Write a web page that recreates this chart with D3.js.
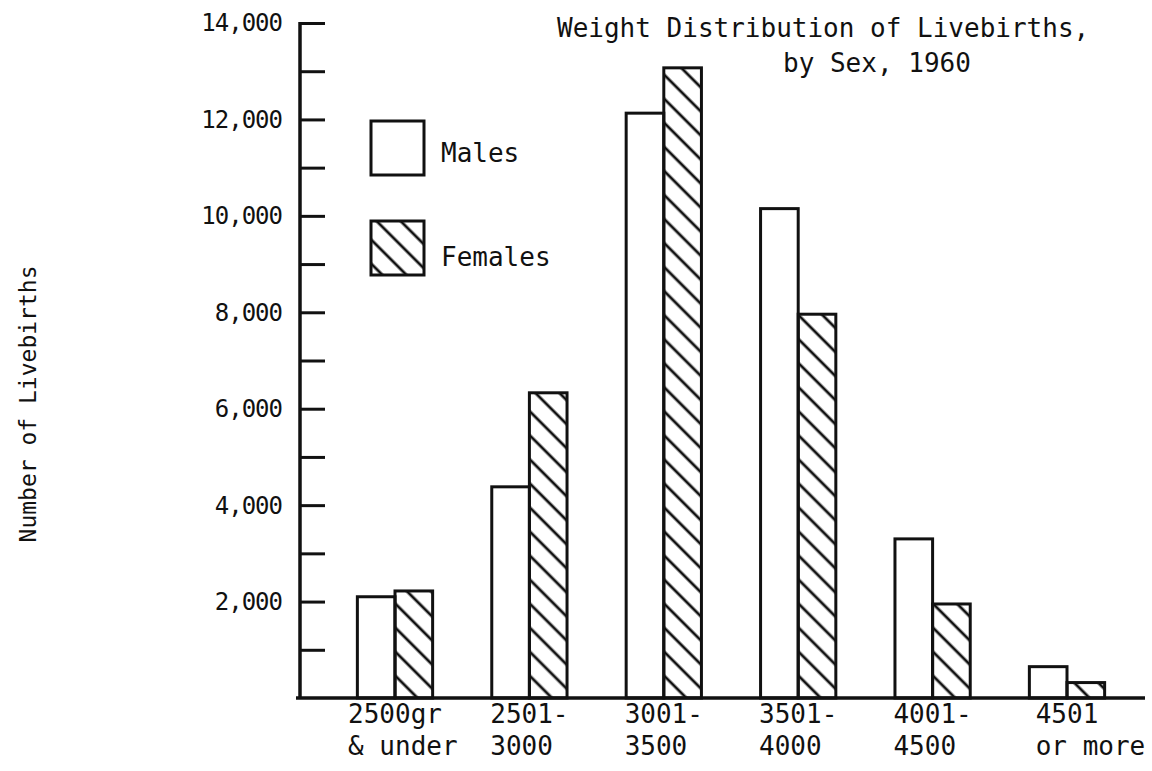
<!doctype html>
<html lang="en">
<head>
<meta charset="utf-8">
<title>Weight Distribution of Livebirths, by Sex, 1960</title>
<style>
body { margin: 0; background: #fff; }
svg text { font-family: "DejaVu Sans Mono", "Liberation Mono", monospace; fill: #111; }
</style>
</head>
<body>
<svg id="chart" width="1152" height="771"></svg>
<script src="https://cdn.jsdelivr.net/npm/d3@7/dist/d3.min.js"></script>
<script>
// weight classes (two-line labels)
var categories = ["2500gr|& under", "2501-|3000", "3001-|3500", "3501-|4000", "4001-|4500", "4501|or more"];
var series = ["Males", "Females"];
var males   = [2100, 4380, 12130, 10150, 3300, 650];
var females = [2220, 6330, 13070, 7960, 1950, 320];
var yTicks = [2000, 4000, 6000, 8000, 10000, 12000, 14000];

var svg = d3.select("#chart");
var ink = "#111";

var x = d3.scaleBand()
    .domain(categories)
    .range([327.8, 1134.2])
    .paddingInner(0.44)
    .paddingOuter(0.22);

var xSex = d3.scaleBand()
    .domain(series)
    .range([0, x.bandwidth()]);

var y = d3.scaleLinear()
    .domain([0, 14000])
    .range([698, 23]);

// hatch for females
var defs = svg.append("defs");
defs.append("pattern")
    .attr("id", "hatch")
    .attr("patternUnits", "userSpaceOnUse")
    .attr("width", 17).attr("height", 17)
    .attr("patternTransform", "rotate(-45)")
  .append("line")
    .attr("x1", 8).attr("y1", -2).attr("x2", 8).attr("y2", 19)
    .attr("stroke", ink).attr("stroke-width", 2.8);

// bars
var rows = categories.map(function(c, i) {
    return [{cat: c, sex: "Males", v: males[i]}, {cat: c, sex: "Females", v: females[i]}];
});

var groups = svg.append("g").selectAll("g")
    .data(rows)
    .join("g")
    .attr("transform", function(d) { return "translate(" + x(d[0].cat) + ",0)"; });

groups.selectAll("rect")
    .data(function(d) { return d; })
    .join("rect")
    .attr("x", function(d) { return xSex(d.sex); })
    .attr("y", function(d) { return y(d.v); })
    .attr("width", xSex.bandwidth())
    .attr("height", function(d) { return y(0) - y(d.v); })
    .attr("fill", function(d) { return d.sex == "Males" ? "#fff" : "url(#hatch)"; })
    .attr("stroke", ink)
    .attr("stroke-width", 3);

// y axis: ticks every 1000 pointing inward
var yAxis = d3.axisRight(y)
    .tickValues(d3.range(1000, 14001, 1000))
    .tickSize(25)
    .tickFormat("");

var ya = svg.append("g")
    .attr("transform", "translate(300,0)")
    .call(yAxis);
ya.select(".domain").remove();
ya.selectAll("line").attr("stroke", ink).attr("stroke-width", 3);

svg.append("line")
    .attr("x1", 300).attr("x2", 300)
    .attr("y1", y(14000) - 1).attr("y2", y(0))
    .attr("stroke", ink).attr("stroke-width", 3.5);

svg.selectAll(".ylab")
    .data(yTicks)
    .join("text")
    .attr("class", "ylab")
    .attr("x", 282)
    .attr("y", function(d) { return y(d); })
    .attr("dy", "0.35em")
    .attr("text-anchor", "end")
    .style("font-size", "24px")
    .style("letter-spacing", "-1px")
    .text(d3.format(","));

// baseline
svg.append("line")
    .attr("x1", 296).attr("x2", 1145)
    .attr("y1", y(0)).attr("y2", y(0))
    .attr("stroke", ink).attr("stroke-width", 3.5);

// category labels: first line centred, second line starts where the first does
var xl = svg.append("g").selectAll("text")
    .data(categories)
    .join("text")
    .style("font-size", "26px");

xl.each(function(d) {
    var parts = d.split("|");
    var t = d3.select(this);
    var t1 = t.append("tspan").attr("y", 723).text(parts[0]);
    var w = t1.node().getComputedTextLength();
    var x0 = x(d) + x.bandwidth() / 2 - w / 2;
    t1.attr("x", x0);
    t.append("tspan").attr("x", x0).attr("y", 755).text(parts[1]);
});

// legend
var legend = svg.append("g");
legend.selectAll("rect")
    .data(series)
    .join("rect")
    .attr("x", 371)
    .attr("y", function(d, i) { return 121 + i * 100; })
    .attr("width", 53).attr("height", 54)
    .attr("fill", function(d) { return d == "Males" ? "#fff" : "url(#hatch)"; })
    .attr("stroke", ink).attr("stroke-width", 3);
legend.selectAll("text")
    .data(series)
    .join("text")
    .attr("x", 441)
    .attr("y", function(d, i) { return 162 + i * 104; })
    .style("font-size", "26px")
    .text(function(d) { return d; });

// title
svg.append("text")
    .attr("x", 557).attr("y", 37)
    .style("font-size", "26px")
    .text("Weight Distribution of Livebirths,");
svg.append("text")
    .attr("x", 783).attr("y", 72)
    .style("font-size", "26px")
    .text("by Sex, 1960");

// y axis title
svg.append("text")
    .attr("transform", "translate(36,404) rotate(-90)")
    .attr("text-anchor", "middle")
    .style("font-size", "23px")
    .text("Number of Livebirths");
</script>
</body>
</html>
